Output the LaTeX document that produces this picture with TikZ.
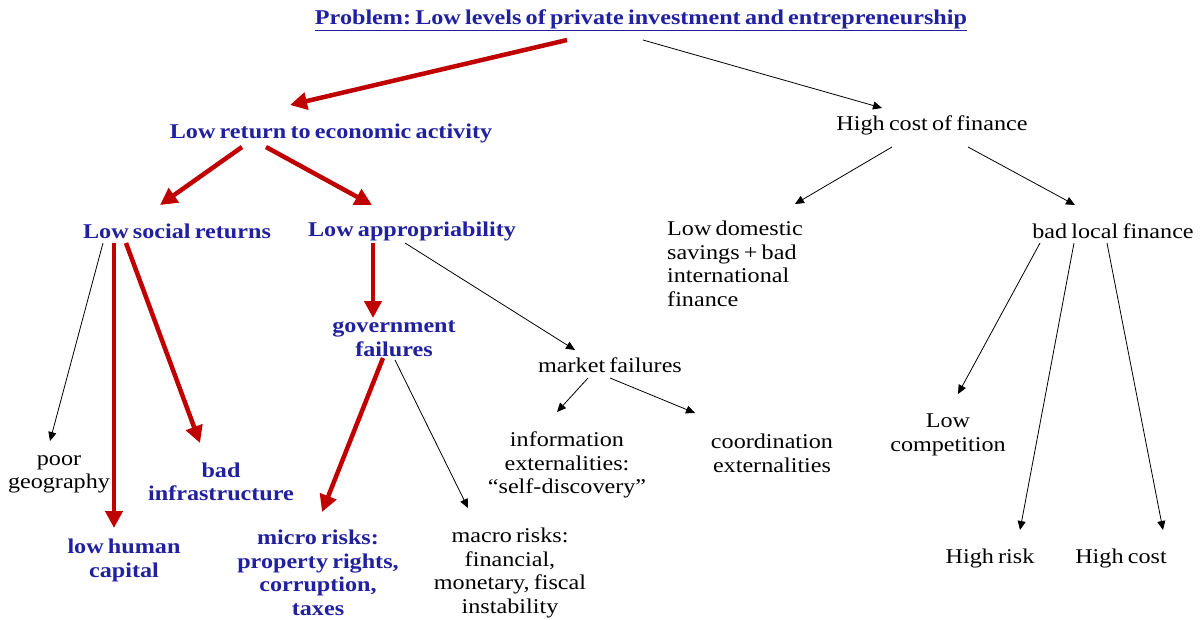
\documentclass[tikz,border=0pt]{standalone}
\usepackage{fontspec}
\setmainfont{Liberation Serif}[FakeStretch=1.15,WordSpace=0.7]
\usetikzlibrary{arrows.meta}
\definecolor{navy}{RGB}{32,32,160}
\definecolor{darkred}{RGB}{192,0,0}
\frenchspacing
\begin{document}
\begin{tikzpicture}[x=1pt,y=-1pt,
  every node/.style={inner sep=0pt,align=center,font=\fontsize{21}{23.5}\selectfont},
  key/.style={text=navy,font=\fontsize{21}{23.5}\selectfont\bfseries},
  plain/.style={text=black},
  strong/.style={draw=darkred,line width=4.5pt,-{Triangle[length=17pt,width=17pt]}},
  thin/.style={draw=black,line width=0.8pt,-{Triangle[length=9pt,width=8pt]}}]
\useasboundingbox (0,0) rectangle (1204,619);

% nodes
\node[key] (T) at (641,20) {\underline{Problem: Low levels of private investment and entrepreneurship}};
\node[key] (lr) at (331,133) {Low return to economic activity};
\node[plain] (hcf) at (932,125) {High cost of finance};
\node[key] (lsr) at (177,231) {Low social returns};
\node[key] (la) at (412,231) {Low appropriability};
\node[plain,anchor=west,align=left] (ld) at (667,264) {Low domestic\\savings + bad\\international\\finance};
\node[plain] (blf) at (1113,231) {bad local finance};
\node[key] (gf) at (394,338.5) {government\\failures};
\node[plain] (mf) at (610,365) {market failures};
\node[plain] (info) at (567,465) {information\\externalities:\\“self-discovery”};
\node[plain] (coord) at (772,453.5) {coordination\\externalities};
\node[plain] (pg) at (59,474.5) {poor\\geography};
\node[key] (binf) at (221,482) {bad\\infrastructure};
\node[key] (lhc) at (124,560.5) {low human\\capital};
\node[key] (micro) at (318,573) {micro risks:\\property rights,\\corruption,\\taxes};
\node[plain] (macro) at (510,573) {macro risks:\\financial,\\monetary, fiscal\\instability};
\node[plain] (lc) at (948,435) {Low\\competition};
\node[plain] (hr) at (990,558) {High risk};
\node[plain] (hc) at (1121,558) {High cost};

% main causal chain
\draw[strong] ([shift={(-74,20)}]T.center) -- ([shift={(-41,-28)}]lr.center);
\draw[strong] ([shift={(-89,14)}]lr.center) -- ([shift={(-17,-26)}]lsr.center);
\draw[strong] ([shift={(-65,14)}]lr.center) -- ([shift={(-40,-26)}]la.center);
\draw[strong] ([shift={(-63,12)}]lsr.center) -- ([shift={(-10,-32.5)}]lhc.center);
\draw[strong] ([shift={(-51,12)}]lsr.center) -- ([shift={(-21,-39)}]binf.center);
\draw[strong] ([shift={(-39,12)}]la.center) -- ([shift={(-21,-20.5)}]gf.center);
\draw[strong] ([shift={(-11,19.5)}]gf.center) -- ([shift={(4,-61)}]micro.center);

% other branches
\draw[thin] ([shift={(2,20)}]T.center) -- ([shift={(-50,-17)}]hcf.center);
\draw[thin] ([shift={(-40,22)}]hcf.center) -- ([shift={(128,-60)}]ld.west);
\draw[thin] ([shift={(36,22)}]hcf.center) -- ([shift={(-38,-26)}]blf.center);
\draw[thin] ([shift={(-74,12)}]lsr.center) -- ([shift={(-9,-33.5)}]pg.center);
\draw[thin] ([shift={(-7,12)}]la.center) -- ([shift={(-35,-15)}]mf.center);
\draw[thin] ([shift={(1,21.5)}]gf.center) -- ([shift={(-42,-65)}]macro.center);
\draw[thin] ([shift={(-22,13)}]mf.center) -- ([shift={(-10,-53)}]info.center);
\draw[thin] ([shift={(0,13)}]mf.center) -- ([shift={(-77,-40.5)}]coord.center);
\draw[thin] ([shift={(-73,12)}]blf.center) -- ([shift={(10,-41)}]lc.center);
\draw[thin] ([shift={(-39,12)}]blf.center) -- ([shift={(30,-28)}]hr.center);
\draw[thin] ([shift={(-6,12)}]blf.center) -- ([shift={(42,-28)}]hc.center);
\end{tikzpicture}
\end{document}
